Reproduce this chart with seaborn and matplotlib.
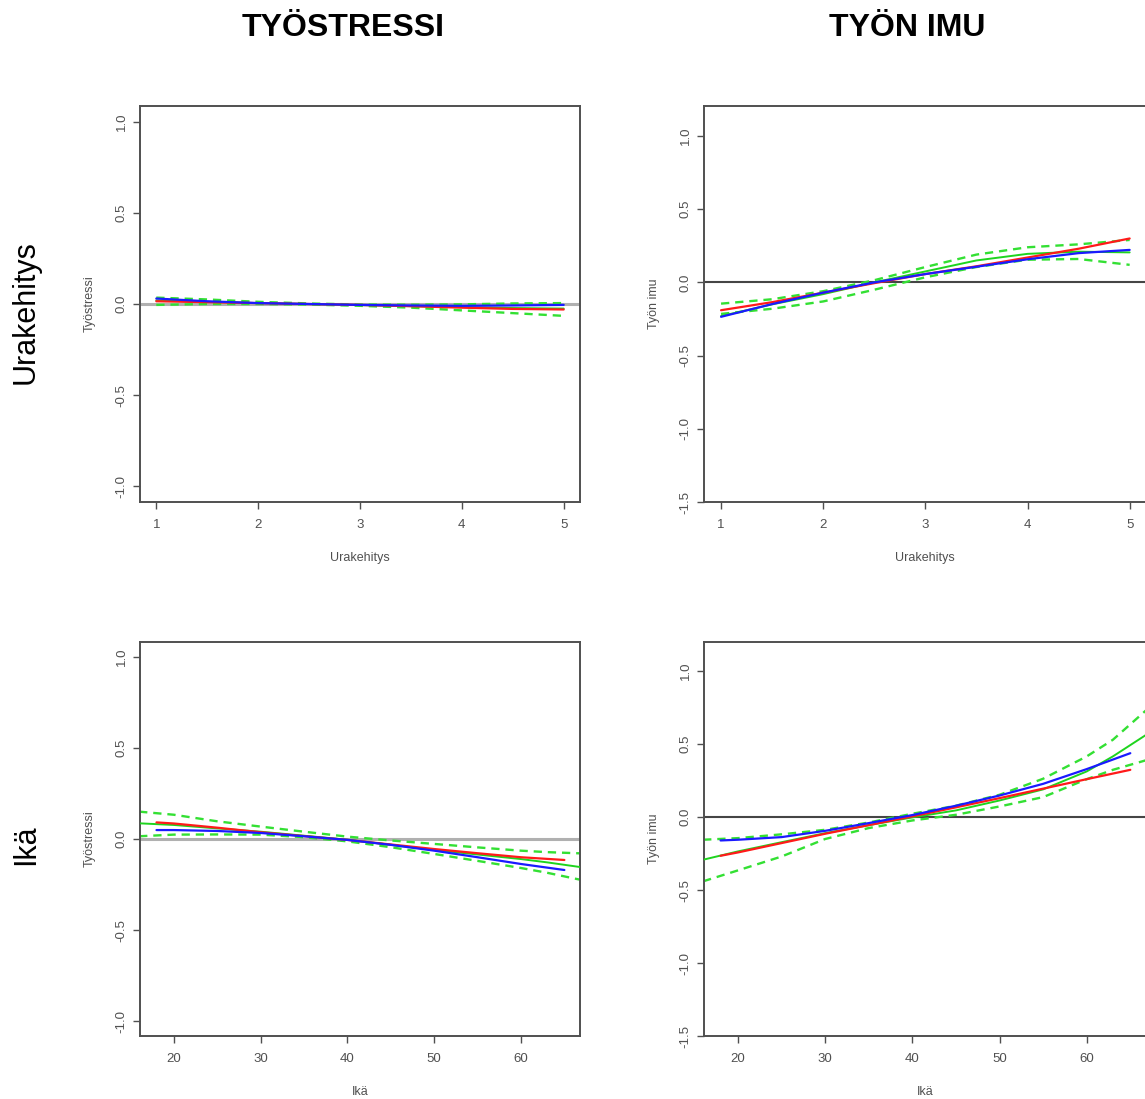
import matplotlib
matplotlib.use("Agg")
import matplotlib.pyplot as plt
import seaborn as sns
import numpy as np

sns.set_theme(style="white")
plt.rcParams['font.family'] = ['Liberation Sans', 'DejaVu Sans']

# ---------------- data ----------------
col_titles = ["TYÖSTRESSI", "TYÖN IMU"]
row_titles = ["Urakehitys", "Ikä"]
y_labels = ["Työstressi", "Työn imu"]
x_labels = ["Urakehitys", "Ikä"]

# Urakehitys (career development) vs Työstressi
ura_x = [1, 1.5, 2, 2.5, 3, 3.5, 4, 4.5, 5]
ts_ura_red = [0.015, 0.010, 0.005, 0.000, -0.005, -0.012, -0.020, -0.027, -0.030]
ts_ura_blue = [0.030, 0.015, 0.005, 0.000, -0.005, -0.008, -0.010, -0.008, -0.005]
ts_ura_green = [0.020, 0.012, 0.005, 0.000, -0.006, -0.012, -0.017, -0.022, -0.025]
ts_ura_green_hi = [0.035, 0.025, 0.012, 0.003, -0.003, -0.004, -0.002, 0.003, 0.005]
ts_ura_green_lo = [-0.005, 0.000, 0.000, -0.003, -0.010, -0.020, -0.035, -0.050, -0.065]

# Urakehitys vs Työn imu
ti_ura_red = [-0.19, -0.135, -0.07, -0.005, 0.057, 0.11, 0.17, 0.23, 0.30]
ti_ura_blue = [-0.235, -0.148, -0.07, 0.0, 0.057, 0.107, 0.158, 0.20, 0.222]
ti_ura_green = [-0.23, -0.15, -0.08, 0.0, 0.075, 0.15, 0.195, 0.21, 0.205]
ti_ura_green_hi = [-0.145, -0.115, -0.06, 0.015, 0.105, 0.19, 0.24, 0.26, 0.29]
ti_ura_green_lo = [-0.215, -0.18, -0.13, -0.05, 0.035, 0.105, 0.155, 0.16, 0.12]

# Ikä (age)
ika_x = [18, 20, 25, 30, 35, 40, 45, 50, 55, 60, 65]
ika_gx = [16, 20, 25, 30, 35, 40, 45, 50, 55, 60, 63, 67]

ts_ika_red = [0.091, 0.085, 0.062, 0.037, 0.016, -0.005, -0.030, -0.055, -0.078, -0.100, -0.115]
ts_ika_blue = [0.049, 0.049, 0.044, 0.033, 0.015, -0.005, -0.032, -0.064, -0.100, -0.137, -0.170]
ts_ika_green = [0.086, 0.077, 0.058, 0.040, 0.018, -0.004, -0.032, -0.060, -0.085, -0.110, -0.128, -0.155]
ts_ika_green_hi = [0.150, 0.133, 0.097, 0.068, 0.040, 0.013, -0.008, -0.027, -0.046, -0.064, -0.072, -0.079]
ts_ika_green_lo = [0.015, 0.024, 0.025, 0.024, 0.010, -0.013, -0.045, -0.082, -0.120, -0.159, -0.185, -0.225]

ti_ika_red = [-0.265, -0.242, -0.178, -0.114, -0.055, 0.005, 0.067, 0.130, 0.195, 0.260, 0.324]
ti_ika_blue = [-0.160, -0.155, -0.137, -0.094, -0.041, 0.014, 0.078, 0.148, 0.228, 0.329, 0.438]
ti_ika_green = [-0.292, -0.235, -0.172, -0.110, -0.055, -0.002, 0.046, 0.114, 0.190, 0.313, 0.416, 0.571]
ti_ika_green_hi = [-0.155, -0.144, -0.118, -0.087, -0.037, 0.023, 0.078, 0.153, 0.263, 0.416, 0.530, 0.742]
ti_ika_green_lo = [-0.440, -0.365, -0.270, -0.150, -0.075, -0.023, 0.016, 0.073, 0.137, 0.260, 0.324, 0.393]

ura_ticks = [1, 2, 3, 4, 5]
ika_ticks = [20, 30, 40, 50, 60]
ts_yticks = [-1.0, -0.5, 0.0, 0.5, 1.0]
ti_yticks = [-1.5, -1.0, -0.5, 0.0, 0.5, 1.0]

# ---------------- figure ----------------
W, H = 1145, 1099
fig = plt.figure(figsize=(W / 100, H / 100), dpi=100)

def px_axes(left, top, right, bottom):
    return fig.add_axes([left / W, 1 - bottom / H, (right - left) / W, (bottom - top) / H])

RED = "#ff1a1a"
BLUE = "#1a1aff"
GREEN = "#1ed41e"
GREEN_D = "#33e033"
AXC = "#505050"

panels = [
    ((140, 106, 580, 502), ura_x, ura_x, ts_ura_red, ts_ura_blue, ts_ura_green, ts_ura_green_hi, ts_ura_green_lo,
     (0.84, 5.16), (-1.085, 1.085), ura_ticks, ts_yticks, x_labels[0], y_labels[0], "#b0b0b0", 2.2, False),
    ((704, 106, 1146, 502), ura_x, ura_x, ti_ura_red, ti_ura_blue, ti_ura_green, ti_ura_green_hi, ti_ura_green_lo,
     (0.833, 5.16), (-1.5, 1.205), ura_ticks, ti_yticks, x_labels[0], y_labels[1], "#454545", 1.5, True),
    ((140, 642, 580, 1036), ika_x, ika_gx, ts_ika_red, ts_ika_blue, ts_ika_green, ts_ika_green_hi, ts_ika_green_lo,
     (16.1, 66.8), (-1.08, 1.08), ika_ticks, ts_yticks, x_labels[1], y_labels[0], "#b0b0b0", 2.2, False),
    ((704, 642, 1146, 1036), ika_x, ika_gx, ti_ika_red, ti_ika_blue, ti_ika_green, ti_ika_green_hi, ti_ika_green_lo,
     (16.1, 66.8), (-1.5, 1.2), ika_ticks, ti_yticks, x_labels[1], y_labels[1], "#454545", 1.5, True),
]

for (rect, xm, xg, red, blue, green, hi, lo, xlim, ylim, xt, yt, xl, yl, zc, zw, rightcol) in panels:
    ax = px_axes(*rect)
    ax.set_facecolor("white")
    ax.axhline(0, color=zc, lw=zw, zorder=1)
    sns.lineplot(x=xg, y=hi, ax=ax, color=GREEN_D, lw=1.7, linestyle=(0, (3.5, 2.5)), zorder=2)
    sns.lineplot(x=xg, y=lo, ax=ax, color=GREEN_D, lw=1.7, linestyle=(0, (3.5, 2.5)), zorder=2)
    sns.lineplot(x=xg, y=green, ax=ax, color=GREEN, lw=1.4, zorder=3)
    sns.lineplot(x=xm, y=red, ax=ax, color=RED, lw=1.6, zorder=4)
    sns.lineplot(x=xm, y=blue, ax=ax, color=BLUE, lw=1.6, zorder=5)
    ax.set_xlim(*xlim)
    ax.set_ylim(*ylim)
    ax.set_xticks(xt)
    ax.set_xticklabels([str(v) for v in xt])
    ax.set_yticks(yt)
    ax.set_yticklabels([f"{v:.1f}" for v in yt])
    ax.tick_params(axis="both", which="major", bottom=True, left=True, length=5, width=1.0,
                   color=AXC, labelcolor="#505050", labelsize=9.5, direction="out")
    ax.tick_params(axis="x", pad=7)
    ax.tick_params(axis="y", pad=4, labelrotation=90)
    for lab in ax.get_yticklabels():
        lab.set_verticalalignment("center")
    for name, sp in ax.spines.items():
        sp.set_visible(True)
        sp.set_color(AXC)
        sp.set_linewidth(1.4)
    if rightcol:
        ax.spines["right"].set_visible(False)
    ax.set_xlabel(xl, fontsize=9, color="#505050")
    ax.set_ylabel(yl, fontsize=9, color="#505050")
    h = rect[3] - rect[1]
    w = rect[2] - rect[0]
    ax.xaxis.set_label_coords(0.5, -(50 / h))
    ax.yaxis.set_label_coords(-(44 / w), 0.5)
    ax.grid(False)

title_font = dict(fontsize=23, fontweight="bold", color="black")
fig.text(343 / W, 1 - 28 / H, col_titles[0], ha="center", va="center", **title_font)
fig.text(907 / W, 1 - 28 / H, col_titles[1], ha="center", va="center", **title_font)

fig.text(26 / W, 1 - 312 / H, row_titles[0], rotation=90, ha="center", va="center", fontsize=22, color="black")
fig.text(26 / W, 1 - 845 / H, row_titles[1], rotation=90, ha="center", va="center", fontsize=22, color="black")

fig.savefig("out.png", dpi=100, facecolor="white")
